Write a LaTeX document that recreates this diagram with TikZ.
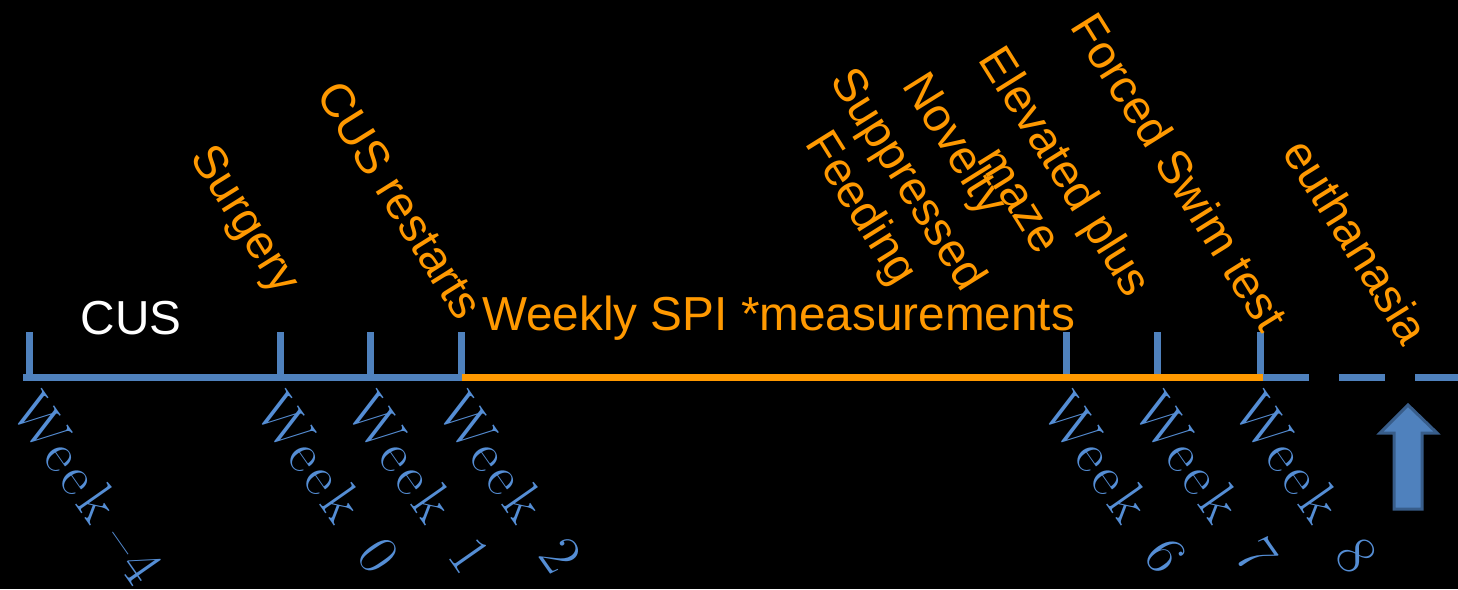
\documentclass[tikz,border=0pt]{standalone}
\usepackage{fontspec}
\setsansfont{Liberation Sans}
\newfontfamily\weekfont[LetterSpace=9]{lmroman17-regular.otf}
\definecolor{tlblue}{HTML}{4F81BD}
\definecolor{tltext}{HTML}{558ED5}
\definecolor{tlborder}{HTML}{385D8A}
\definecolor{tlorange}{HTML}{FF9900}
\newcommand{\wk}[1]{Week\kern36pt#1}
\begin{document}
\begin{tikzpicture}[x=1pt,y=-1pt,
  axis/.style={line width=7pt},
  tick/.style={tlblue,line width=7pt},
  weeklbl/.style={text=tltext,font=\weekfont\fontsize{58}{66}\selectfont,rotate=-55,anchor=base west,inner sep=0pt},
  event/.style={text=tlorange,font=\sffamily\fontsize{47}{54}\selectfont,rotate=-58,align=center,inner sep=0pt},
  plain/.style={font=\sffamily\fontsize{47.7}{54}\selectfont,inner sep=0pt}]
\fill[black] (0,0) rectangle (1458,589);
\useasboundingbox (0,0) rectangle (1458,589);
% axis coordinates
\coordinate (start) at (23,377.5);
\coordinate (tA) at (29.5,377.5);
\coordinate (tB) at (280,377.5);
\coordinate (tC) at (370.5,377.5);
\coordinate (tD) at (461.5,377.5);
\coordinate (tE) at (1066.5,377.5);
\coordinate (tF) at (1157,377.5);
\coordinate (tG) at (1260.5,377.5);
\coordinate (oend) at (1263,377.5);
\coordinate (fin) at (1458,377.5);
% ticks
\foreach \t/\x in {tA/29.5,tB/280,tC/370.5,tD/461.5,tE/1066.5,tF/1157,tG/1260.5}{
  \coordinate (\t top) at (\x,332);
  \draw[tick] (\t top) -- (\t);
}
% axis
\draw[axis,tlblue] (start) -- (tD);
\draw[axis,tlorange] (tD) -- (oend);
\draw[axis,tlblue,dash pattern=on 46pt off 30pt] (oend) -- (fin);
% week labels
\node[weeklbl] (wA) at (9,410) {Week\kern18pt\textendash\kern4pt 4};
\node[weeklbl] (wB) at (253,410) {\wk{0}};
\node[weeklbl] (wC) at (344,410) {\wk{1}};
\node[weeklbl] (wD) at (435,410) {\wk{2}};
\node[weeklbl] (wE) at (1040,410) {\wk{6}};
\node[weeklbl] (wF) at (1131,410) {\wk{7}};
\node[weeklbl] (wG) at (1231,410) {\wk{8}};
% horizontal labels
\node[plain,text=white] (cus) at (131,318) {CUS};
\node[plain,text=tlorange,anchor=base west] (spi) at (482,330) {Weekly SPI *measurements};
% event labels
\node[event] (surg) at (243,221) {Surgery};
\node[event] (restart) at (400,200) {CUS restarts};
\node[event] (sft) at (883,195) {Suppressed\\Feeding};
\node[event] (nov) at (953,146) {Novelty};
\node[event] (epm) at (1044,185) {Elevated plus\\maze};
\node[event] (fst) at (1180,172) {Forced Swim test};
\node[event] (euth) at (1357,241) {euthanasia};
% arrow
\draw[fill=tlblue,draw=tlborder,line width=3pt,line join=miter]
  (1408,405) -- (1437,433) -- (1422,433) -- (1422,509) -- (1394,509) -- (1394,433) -- (1380,433) -- cycle;
\end{tikzpicture}
\end{document}
